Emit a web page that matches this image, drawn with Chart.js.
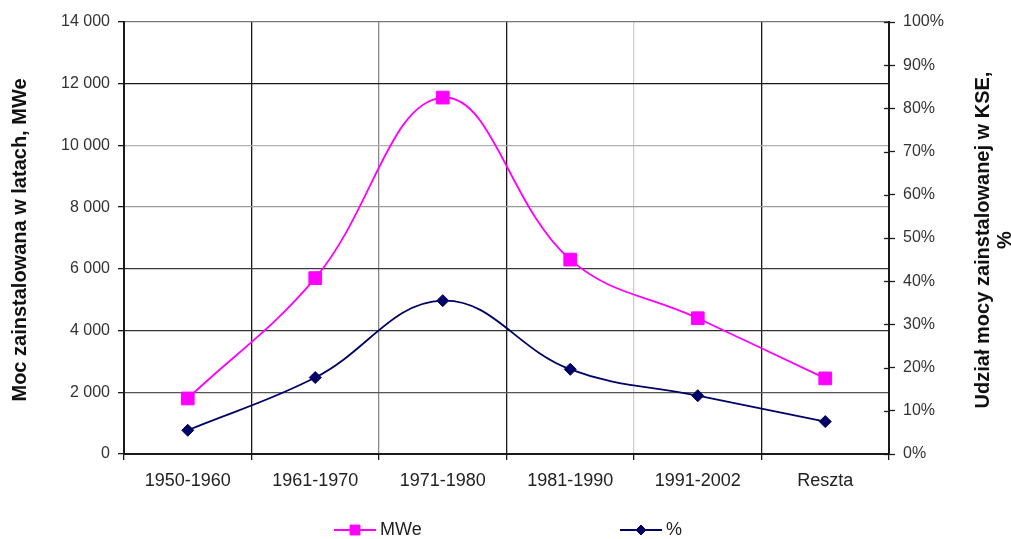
<!DOCTYPE html>
<html>
<head>
<meta charset="utf-8">
<script src="https://cdn.jsdelivr.net/npm/chart.js@4/dist/chart.umd.min.js"></script>
<style>
  html, body { margin: 0; padding: 0; background: #ffffff; }
  #wrap { width: 1011px; height: 539px; position: relative; }
</style>
</head>
<body>
<div id="wrap"><canvas id="chart" width="1011" height="539"></canvas></div>
<script>
// Installed capacity of units commissioned per period, and their share of the KSE total
const categories = ['1950-1960', '1961-1970', '1971-1980', '1981-1990', '1991-2002', 'Reszta'];
const mweValues = [1800, 5700, 11550, 6300, 4400, 2450];
const shareValues = [5.5, 17.7, 35.5, 19.6, 13.5, 7.5];

const seriesNames = ['MWe', '%'];
const leftAxisTitle = 'Moc zainstalowana w latach, MWe';
const rightAxisTitle = ['Udział mocy zainstalowanej w KSE,', '%'];

const leftMax = 14000, leftStep = 2000;
const rightMax = 100, rightStep = 10;

const FONT = '"Liberation Sans", Arial, sans-serif';

// grid line shades (left-axis levels from 0 upward, vertical separators from the left edge)
const hGridShades = ['#1a1a1a', '#555555', '#333333', '#3a3a3a', '#9a9a9a', '#b0b0b0', '#1a1a1a', '#777777'];
const vGridShades = ['#1a1a1a', '#1a1a1a', '#8a8a8a', '#1a1a1a', '#cfcfcf', '#1a1a1a', '#1a1a1a'];

function thousands(v) {
  return String(v).replace(/\B(?=(\d{3})+(?!\d))/g, '\u00a0');
}

// axis titles (both read bottom-to-top), legend, and inward tick marks on the right axis
const decorations = {
  id: 'decorations',
  afterDraw(chart) {
    const ctx = chart.ctx;
    const area = chart.chartArea;
    ctx.save();

    // inward half of the right-axis tick marks
    const yr = chart.scales.y1;
    ctx.strokeStyle = '#1a1a1a';
    ctx.lineWidth = 1.3;
    yr.ticks.forEach(t => {
      const py = Math.round(yr.getPixelForValue(t.value)) + 0.5;
      ctx.beginPath();
      ctx.moveTo(area.right - 5, py);
      ctx.lineTo(area.right, py);
      ctx.stroke();
    });

    // axis titles
    ctx.fillStyle = '#111111';
    ctx.font = 'bold 20px ' + FONT;
    ctx.textAlign = 'center';
    ctx.textBaseline = 'middle';
    const midY = (area.top + area.bottom) / 2 + 2;

    ctx.save();
    ctx.translate(20, midY);
    ctx.rotate(-Math.PI / 2);
    ctx.fillText(leftAxisTitle, 0, 0);
    ctx.restore();

    ctx.save();
    ctx.translate(983, midY);
    ctx.rotate(-Math.PI / 2);
    ctx.fillText(rightAxisTitle[0], 0, 0);
    ctx.fillText(rightAxisTitle[1], 0, 22);
    ctx.restore();

    // legend: line segment with marker, then the series name
    const legendY = 530;
    const legendX = [334, 620];
    ctx.font = '18px ' + FONT;
    ctx.textAlign = 'left';
    chart.data.datasets.forEach((ds, i) => {
      const x0 = legendX[i];
      ctx.strokeStyle = ds.borderColor;
      ctx.lineWidth = 2;
      ctx.beginPath();
      ctx.moveTo(x0, legendY);
      ctx.lineTo(x0 + 42, legendY);
      ctx.stroke();
      ctx.fillStyle = ds.pointBackgroundColor;
      ctx.strokeStyle = ds.pointBorderColor;
      ctx.lineWidth = 1;
      Chart.helpers.drawPoint(ctx, {
        pointStyle: ds.pointStyle,
        radius: ds.pointStyle === 'rect' ? 7 : 5,
        rotation: 0,
        borderWidth: 1
      }, x0 + 21, legendY);
      ctx.fillStyle = '#222222';
      ctx.fillText(ds.label, x0 + 46, legendY);
    });

    ctx.restore();
  }
};

new Chart(document.getElementById('chart'), {
  type: 'line',
  data: {
    labels: categories,
    datasets: [
      {
        label: seriesNames[0],
        data: mweValues,
        yAxisID: 'y',
        borderColor: '#ff00ff',
        backgroundColor: '#ff00ff',
        borderWidth: 1.8,
        tension: 0.4,
        pointStyle: 'rect',
        pointRadius: 9,
        pointHoverRadius: 9,
        pointBackgroundColor: '#ff00ff',
        pointBorderColor: '#ff00ff',
        pointBorderWidth: 1,
        order: 1
      },
      {
        label: seriesNames[1],
        data: shareValues,
        yAxisID: 'y1',
        borderColor: '#000066',
        backgroundColor: '#000066',
        borderWidth: 1.8,
        tension: 0.4,
        pointStyle: 'rectRot',
        pointRadius: 6,
        pointHoverRadius: 6,
        pointBackgroundColor: '#000066',
        pointBorderColor: '#000066',
        pointBorderWidth: 1,
        order: 2
      }
    ]
  },
  options: {
    responsive: false,
    animation: false,
    devicePixelRatio: 1,
    layout: { padding: { top: 22, left: 0, right: 0, bottom: 0 } },
    plugins: {
      legend: { display: false },
      tooltip: { enabled: false },
      title: { display: false }
    },
    scales: {
      x: {
        type: 'category',
        offset: true,
        afterFit(scale) { scale.height = 85; },
        grid: {
          offset: true,
          color: ctx => vGridShades[ctx.index] || '#1a1a1a',
          lineWidth: 1.3,
          tickLength: 6,
          tickColor: '#1a1a1a',
          tickWidth: 1.3
        },
        border: { display: true, color: '#1a1a1a', width: 2 },
        ticks: {
          color: '#222222',
          font: { family: FONT, size: 18 },
          padding: 10,
          maxRotation: 0,
          autoSkip: false
        }
      },
      y: {
        type: 'linear',
        position: 'left',
        min: 0,
        max: leftMax,
        afterFit(scale) { scale.width = 124; },
        grid: {
          color: ctx => hGridShades[ctx.index] || '#1a1a1a',
          lineWidth: 1.3,
          tickLength: 6,
          tickColor: '#1a1a1a',
          tickWidth: 1.3
        },
        border: { display: true, color: '#1a1a1a', width: 2 },
        ticks: {
          stepSize: leftStep,
          color: '#333333',
          font: { family: FONT, size: 16 },
          padding: 8,
          callback: v => thousands(v)
        }
      },
      y1: {
        type: 'linear',
        position: 'right',
        min: 0,
        max: rightMax,
        afterFit(scale) { scale.width = 122; },
        grid: {
          drawOnChartArea: false,
          tickLength: 6,
          tickColor: '#1a1a1a',
          tickWidth: 1.3
        },
        border: { display: true, color: '#1a1a1a', width: 2 },
        ticks: {
          stepSize: rightStep,
          color: '#333333',
          font: { family: FONT, size: 16 },
          padding: 8,
          callback: v => v + '%'
        }
      }
    }
  },
  plugins: [decorations]
});
</script>
</body>
</html>
